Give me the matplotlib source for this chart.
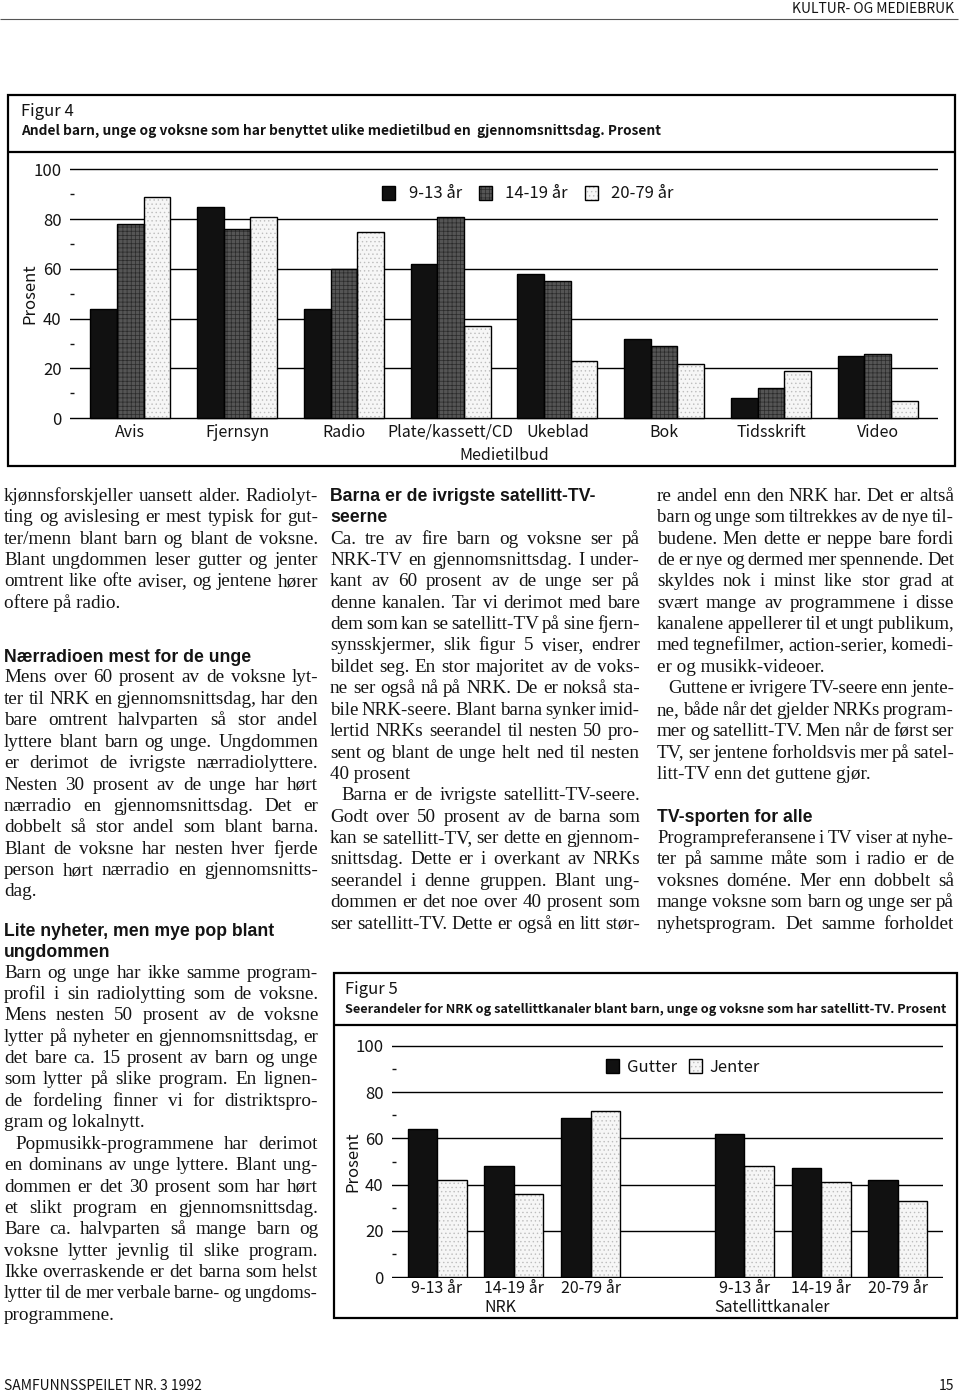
import unicodedata
import numpy as np
import matplotlib
matplotlib.use('Agg')
import matplotlib.pyplot as plt
from matplotlib import font_manager as fm
from matplotlib.font_manager import FontProperties
from matplotlib.patches import Rectangle
from matplotlib.lines import Line2D

# ------------------------------------------------------------------ data
fig4_categories = ['Avis', 'Fjernsyn', 'Radio', 'Plate/kassett/CD', 'Ukeblad',
                   'Bok', 'Tidsskrift', 'Video']
fig4_series = ['9-13 år', '14-19 år', '20-79 år']
fig4_age_9_13 = [44, 85, 44, 62, 58, 32, 8, 25]
fig4_age_14_19 = [78, 76, 60, 81, 55, 29, 12, 26]
fig4_age_20_79 = [89, 81, 75, 37, 23, 22, 19, 7]
fig4_yticks = [0, 20, 40, 60, 80, 100]
fig4_title = 'Andel barn, unge og voksne som har benyttet ulike medietilbud en  gjennomsnittsdag. Prosent'
fig4_xlabel = 'Medietilbud'

fig5_age_labels = ['9-13 år', '14-19 år', '20-79 år', '9-13 år', '14-19 år', '20-79 år']
fig5_channels = ['NRK', 'Satellittkanaler']
fig5_series = ['Gutter', 'Jenter']
fig5_gutter = [64, 48, 69, 62, 47, 42]
fig5_jenter = [42, 36, 72, 48, 41, 33]
fig5_yticks = [0, 20, 40, 60, 80, 100]
fig5_title = 'Seerandeler for NRK og satellittkanaler blant barn, unge og voksne som har satellitt-TV. Prosent'

# ------------------------------------------------------------------ body text
left_p1 = ['kjønnsforskjeller uansett alder. Radiolyt-',
           'ting og avislesing er mest typisk for gut-',
           'ter/menn blant barn og blant de voksne.',
           'Blant ungdommen leser gutter og jenter',
           'omtrent like ofte aviser, og jentene hører',
           'oftere på radio.']
left_h1 = ['Nærradioen mest for de unge']
left_p2 = ['Mens over 60 prosent av de voksne lyt-',
           'ter til NRK en gjennomsnittsdag, har den',
           'bare omtrent halvparten så stor andel',
           'lyttere blant barn og unge. Ungdommen',
           'er derimot de ivrigste nærradiolyttere.',
           'Nesten 30 prosent av de unge har hørt',
           'nærradio en gjennomsnittsdag. Det er',
           'dobbelt så stor andel som blant barna.',
           'Blant de voksne har nesten hver fjerde',
           'person hørt nærradio en gjennomsnitts-',
           'dag.']
left_h2 = ['Lite nyheter, men mye pop blant', 'ungdommen']
left_p3 = ['Barn og unge har ikke samme program-',
           'profil i sin radiolytting som de voksne.',
           'Mens nesten 50 prosent av de voksne',
           'lytter på nyheter en gjennomsnittsdag, er',
           'det bare ca. 15 prosent av barn og unge',
           'som lytter på slike program. En lignen-',
           'de fordeling finner vi for distriktspro-',
           'gram og lokalnytt.']
left_p4 = ['Popmusikk-programmene har derimot',
           'en dominans av unge lyttere. Blant ung-',
           'dommen er det 30 prosent som har hørt',
           'et slikt program en gjennomsnittsdag.',
           'Bare ca. halvparten så mange barn og',
           'voksne lytter jevnlig til slike program.',
           'Ikke overraskende er det barna som helst',
           'lytter til de mer verbale barne- og ungdoms-',
           'programmene.']
mid_h1 = ['Barna er de ivrigste satellitt-TV-', 'seerne']
mid_p1 = ['Ca. tre av fire barn og voksne ser på',
          'NRK-TV en gjennomsnittsdag. I under-',
          'kant av 60 prosent av de unge ser på',
          'denne kanalen. Tar vi derimot med bare',
          'dem som kan se satellitt-TV på sine fjern-',
          'synsskjermer, slik figur 5 viser, endrer',
          'bildet seg. En stor majoritet av de voks-',
          'ne ser også nå på NRK. De er nokså sta-',
          'bile NRK-seere. Blant barna synker imid-',
          'lertid NRKs seerandel til nesten 50 pro-',
          'sent og blant de unge helt ned til nesten',
          '40 prosent']
mid_p2 = ['Barna er de ivrigste satellitt-TV-seere.',
          'Godt over 50 prosent av de barna som',
          'kan se satellitt-TV, ser dette en gjennom-',
          'snittsdag. Dette er i overkant av NRKs',
          'seerandel i denne gruppen. Blant ung-',
          'dommen er det noe over 40 prosent som',
          'ser satellitt-TV. Dette er også en litt stør-']
right_p1 = ['re andel enn den NRK har. Det er altså',
            'barn og unge som tiltrekkes av de nye til-',
            'budene. Men dette er neppe bare fordi',
            'de er nye og dermed mer spennende. Det',
            'skyldes nok i minst like stor grad at',
            'svært mange av programmene i disse',
            'kanalene appellerer til et ungt publikum,',
            'med tegnefilmer, action-serier, komedi-',
            'er og musikk-videoer.']
right_p2 = ['Guttene er ivrigere TV-seere enn jente-',
            'ne, både når det gjelder NRKs program-',
            'mer og satellitt-TV. Men når de først ser',
            'TV, ser jentene forholdsvis mer på satel-',
            'litt-TV enn det guttene gjør.']
right_h1 = ['TV-sporten for alle']
right_p3 = ['Programpreferansene i TV viser at nyhe-',
            'ter på samme måte som i radio er de',
            'voksnes doméne. Mer enn dobbelt så',
            'mange voksne som barn og unge ser på',
            'nyhetsprogram. Det samme forholdet']

# ------------------------------------------------------------------ fonts
_names = {f.name for f in fm.fontManager.ttflist}
if 'Noto Sans CJK JP' in _names:
    COND = dict(family=['Noto Sans CJK JP', 'DejaVu Sans'])
else:
    COND = dict(family=['Liberation Sans', 'DejaVu Sans'])
SERIF = dict(family=['Liberation Serif', 'DejaVu Serif'])
SANSB = dict(family=['Liberation Sans', 'DejaVu Sans'], weight='bold')

W, H, DPI = 960, 1394, 100
fig = plt.figure(figsize=(W / DPI, H / DPI), dpi=DPI)
fig.patch.set_facecolor('white')
renderer = fig.canvas.get_renderer()
INK = '#141414'


def nfc(s):
    return unicodedata.normalize('NFC', s)


def fx(x):
    return x / W


def fy(y):
    return 1 - y / H


def fp(kw, size, **extra):
    d = dict(kw)
    d.update(extra)
    return FontProperties(size=size, **d)


def twidth(s, prop):
    w, h, d = renderer.get_text_width_height_descent(nfc(s), prop, ismath=False)
    return w


def fit(s, kw, target, **extra):
    base = 12.0
    return base * target / twidth(s, fp(kw, base, **extra))


def ftext(x, y, s, prop, **kw):
    return fig.text(fx(x), fy(y), nfc(s), fontproperties=prop, color=INK, **kw)


def hline(x0, x1, y, lw=1.2, color='black'):
    fig.add_artist(Line2D([fx(x0), fx(x1)], [fy(y), fy(y)], transform=fig.transFigure,
                          lw=lw, color=color, solid_capstyle='butt'))


def box(x0, y0, x1, y1, lw=1.6):
    fig.add_artist(Rectangle((fx(x0), fy(y1)), fx(x1) - fx(x0), fy(y0) - fy(y1),
                             transform=fig.transFigure, fill=False, lw=lw, ec='black'))


LAB = 12.0    # chart label size
CAT = 11.5    # category label size

# ------------------------------------------------------------------ header / footer
small = fp(COND, 10)
ftext(954, 9, 'KULTUR- OG MEDIEBRUK', small, ha='right', va='center')
hline(0, 958, 19, lw=0.8, color='#555555')
ftext(4, 1386, 'SAMFUNNSSPEILET NR. 3 1992', small, ha='left', va='center')
ftext(954, 1386, '15', small, ha='right', va='center')

# ------------------------------------------------------------------ figure 4 frame
box(8, 95, 955, 466)
hline(8, 955, 152, lw=1.6)
ftext(21, 111, 'Figur 4', fp(COND, LAB), ha='left', va='center')
s4 = min(11.5, fit(fig4_title, COND, 640, weight='bold'))
ftext(21, 131, fig4_title, fp(COND, s4, weight='bold'), ha='left', va='center')

# bar styles
STY_BLACK = dict(fc='#111111', hatch=None, hc='#111111')
STY_DARK = dict(fc='#555555', hatch='++++', hc='#2a2a2a')
STY_LIGHT = dict(fc='#f6f6f6', hatch='....', hc='#bdbdbd')

plt.rcParams['hatch.linewidth'] = 0.5


def styled_bars(ax, xs, vals, width, st):
    a = ax.bar(xs, vals, width=width, color=st['fc'], hatch=st['hatch'],
               edgecolor=st['hc'], linewidth=0, zorder=2)
    b = ax.bar(xs, vals, width=width, fill=False, edgecolor='black', linewidth=1.0, zorder=3)
    return (a[0], b[0])


def style_axis(ax, labsize, catsize, xpad):
    ax.set_facecolor('none')
    for sp in ax.spines.values():
        sp.set_visible(False)
    ax.yaxis.grid(True, which='major', color='black', lw=1.0, zorder=0)
    ax.set_axisbelow(True)
    ax.tick_params(axis='y', which='major', length=0, pad=6)
    ax.tick_params(axis='y', which='minor', length=3, width=1.0, direction='in', color=INK)
    ax.tick_params(axis='x', length=0, pad=xpad)
    for lab in ax.get_yticklabels():
        lab.set_fontproperties(fp(COND, labsize))
        lab.set_color(INK)
    for lab in ax.get_xticklabels():
        lab.set_fontproperties(fp(COND, catsize))
        lab.set_color(INK)


# ------------------------------------------------------------------ figure 4 axes
y0_4, y100_4 = 418.3, 169.3
pu4 = (y0_4 - y100_4) / 100.0
pad4 = 0.6
ax4 = fig.add_axes([fx(70), fy(y0_4 + pad4 * pu4), fx(938) - fx(70),
                    (y0_4 - y100_4 + 2 * pad4 * pu4) / H])
x4 = np.arange(len(fig4_categories))
w4 = 0.25
h4 = []
for k, (vals, st) in enumerate([(fig4_age_9_13, STY_BLACK), (fig4_age_14_19, STY_DARK),
                                (fig4_age_20_79, STY_LIGHT)]):
    h4.append(styled_bars(ax4, x4 + (k - 1) * w4, vals, w4, st))
ax4.set_xlim(-0.565, len(fig4_categories) - 1 + 0.565)
ax4.set_ylim(-pad4, 100 + pad4)
ax4.set_yticks(fig4_yticks)
ax4.set_yticks([10, 30, 50, 70, 90], minor=True)
ax4.yaxis.set_minor_formatter(matplotlib.ticker.NullFormatter())
ax4.set_xticks(x4)
ax4.set_xticklabels([nfc(c) for c in fig4_categories])
style_axis(ax4, LAB, CAT, 3)
ax4.annotate(fig4_xlabel, xy=(0.5, H - 455), xycoords=('axes fraction', 'figure pixels'),
             ha='center', va='center', fontproperties=fp(COND, CAT), color=INK)
ftext(30, 294, 'Prosent', fp(COND, LAB), ha='center', va='center', rotation=90)
leg4 = ax4.legend(h4, [nfc(s) for s in fig4_series], ncol=3, frameon=False, loc='center left',
                  bbox_to_anchor=(fx(382), fy(194)), bbox_transform=fig.transFigure,
                  prop=fp(COND, LAB), handlelength=0.8, handleheight=0.95,
                  handletextpad=0.8, columnspacing=1.0, borderpad=0, borderaxespad=0)
for t in leg4.get_texts():
    t.set_color(INK)

# ------------------------------------------------------------------ figure 5 frame
box(334, 973, 957, 1318)
hline(334, 957, 1025, lw=1.6)
ftext(345, 990, 'Figur 5', fp(COND, LAB), ha='left', va='center')
s5 = min(11.5, fit(fig5_title, COND, 606, weight='bold'))
ftext(345, 1009, fig5_title, fp(COND, s5, weight='bold'), ha='left', va='center')

# ------------------------------------------------------------------ figure 5 axes
y0_5, y100_5 = 1277.0, 1046.0
pu5 = (y0_5 - y100_5) / 100.0
pad5 = 0.6
ax5 = fig.add_axes([fx(392), fy(y0_5 + pad5 * pu5), fx(943) - fx(392),
                    (y0_5 - y100_5 + 2 * pad5 * pu5) / H])
pos5 = np.array([0, 1, 2, 4, 5, 6])
w5 = 0.384
h5 = [styled_bars(ax5, pos5 - w5 / 2, fig5_gutter, w5, STY_BLACK),
      styled_bars(ax5, pos5 + w5 / 2, fig5_jenter, w5, STY_LIGHT)]
ax5.set_xlim(-0.586, 6.586)
ax5.set_ylim(-pad5, 100 + pad5)
ax5.set_yticks(fig5_yticks)
ax5.set_yticks([10, 30, 50, 70, 90], minor=True)
ax5.yaxis.set_minor_formatter(matplotlib.ticker.NullFormatter())
ax5.set_xticks(pos5)
ax5.set_xticklabels([nfc(s) for s in fig5_age_labels])
style_axis(ax5, LAB, CAT, 1)
for lbl, xpos in zip(fig5_channels, [0.83, 4.36]):
    ax5.annotate(lbl, xy=(xpos, H - 1308), xycoords=('data', 'figure pixels'),
                 ha='center', va='center', fontproperties=fp(COND, CAT), color=INK)
ftext(353, 1162, 'Prosent', fp(COND, LAB), ha='center', va='center', rotation=90)
leg5 = ax5.legend(h5, fig5_series, ncol=2, frameon=False, loc='center left',
                  bbox_to_anchor=(fx(606), fy(1067)), bbox_transform=fig.transFigure,
                  prop=fp(COND, LAB), handlelength=0.8, handleheight=0.95,
                  handletextpad=0.45, columnspacing=0.7, borderpad=0, borderaxespad=0)
for t in leg5.get_texts():
    t.set_color(INK)

# ------------------------------------------------------------------ body text
body_size = fit('Blant ungdommen leser gutter og jenter', SERIF, 304)
FB = fp(SERIF, body_size)
head_size = fit('Nærradioen mest for de unge', SANSB, 245)
FH = fp(SANSB, head_size)
STEP = 21.4
BASE = 5.5
INDENT = 11
MINGAP = 3.0


def para(lines, x0, x1, y, indent=0, justify_last=False):
    for i, line in enumerate(lines):
        line = nfc(line)
        yy = y + i * STEP + BASE
        xs = x0 + (indent if i == 0 else 0)
        last = (i == len(lines) - 1) and not justify_last
        words = line.split(' ')
        if last or len(words) == 1:
            ftext(xs, yy, line, FB, ha='left', va='baseline')
            continue
        prop = FB
        ws = [twidth(w, prop) for w in words]
        avail = x1 - xs
        need = sum(ws) + MINGAP * (len(words) - 1)
        if need > avail:
            prop = fp(SERIF, body_size * (avail - MINGAP * (len(words) - 1)) / sum(ws) * 0.995)
            ws = [twidth(w, prop) for w in words]
        gap = (avail - sum(ws)) / (len(words) - 1)
        xc = xs
        for w, ww in zip(words, ws):
            ftext(xc, yy, w, prop, ha='left', va='baseline')
            xc += ww + gap
    return y + len(lines) * STEP


def heading(lines, x0, y, step=20.5):
    for i, line in enumerate(lines):
        ftext(x0, y + i * step + BASE, line, FH, ha='left', va='baseline')


LX0, LX1 = 4, 318
MX0, MX1 = 330, 640
RX0, RX1 = 657, 954
G0 = 495.2

para(left_p1, LX0, LX1, G0)
heading(left_h1, LX0, 656)
para(left_p2, LX0, LX1, 677)
heading(left_h2, LX0, 931)
para(left_p3, LX0, LX1, 972)
para(left_p4, LX0, LX1, 972 + len(left_p3) * STEP, indent=INDENT)

heading(mid_h1, MX0, G0, step=STEP)
ym = para(mid_p1, MX0, MX1, G0 + 2 * STEP)
para(mid_p2, MX0, MX1, ym, indent=INDENT, justify_last=True)

yr = para(right_p1, RX0, RX1, G0)
para(right_p2, RX0, RX1, yr, indent=INDENT)
heading(right_h1, RX0, G0 + 15 * STEP)
para(right_p3, RX0, RX1, G0 + 16 * STEP, justify_last=True)

fig.savefig('out.png', dpi=DPI, facecolor='white')
